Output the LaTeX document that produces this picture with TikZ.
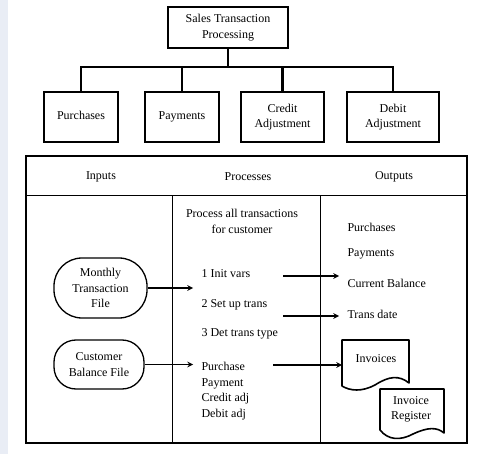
\documentclass[tikz,border=0pt]{standalone}
\usepackage{fontspec}
\setmainfont{Liberation Serif}
\definecolor{franja}{RGB}{233,237,245}
\usetikzlibrary{arrows}

\begin{document}
\begin{tikzpicture}[x=1pt, y=-1pt,
    font=\fontsize{12}{15.5}\selectfont,
    caja/.style={draw, line width=1.8pt, align=center, inner sep=0pt},
    rama/.style={line width=2.2pt},
    archivo/.style={draw, line width=1.3pt, rounded corners=22pt, align=center, inner sep=0pt},
    flecha/.style={-stealth, line width=1.5pt},
    doc/.style={line width=1.6pt, line join=round}]

    % FONDO
    \useasboundingbox (0,0) rectangle (479,454);
    \fill[franja] (0,0) rectangle (8,454);

    % ARBOL
    \node[caja, minimum width=120, minimum height=41] (sales) at (228,27.5) {Sales Transaction\\Processing};
    \node[caja, text height=8pt, text depth=3pt, minimum width=74, minimum height=50] (purch) at (81,117) {Purchases};
    \node[caja, text height=8pt, text depth=3pt, minimum width=74, minimum height=50] (paym) at (182,117) {Payments};
    \node[caja, minimum width=83, minimum height=50] (credit) at (282.5,117) {Credit\\Adjustment};
    \node[caja, minimum width=92, minimum height=50] (debit) at (393,117) {Debit\\Adjustment};
    \coordinate (bar) at (228,67);
    \draw[rama] (sales.south) -- (bar);
    \foreach \hijo in {purch,paym,credit,debit}
        \draw[rama] (bar) -| (\hijo.north);

    % TABLA
    \draw[line width=1.2pt] (26,156) rectangle (467,443);
    \draw[line width=1pt] (26,196) -- (467,196);
    \draw[line width=1pt] (172,196) -- (172,443);
    \draw[line width=1pt] (320,196) -- (320,443);
    \node (inputs) at (101,177) {Inputs};
    \node (processes) at (248,177) {Processes};
    \node (outputs) at (394,177) {Outputs};

    % ENTRADAS
    \node[archivo, rounded corners=28pt, minimum width=93, minimum height=60] (monthly) at (100.5,288) {Monthly\\Transaction\\File};
    \node[archivo, minimum width=90, minimum height=49] (custbal) at (99,364.5) {Customer\\Balance File};

    % PROCESOS
    \node[align=center] (procall) at (242,221.5) {Process all transactions\\for customer};
    \node[anchor=west] (init) at (198,274) {1 Init vars};
    \node[anchor=west] (setup) at (198,305) {2 Set up trans};
    \node[anchor=west] (dettype) at (198,334) {3 Det trans type};
    \node[anchor=west, align=left] (types) at (198,391) {Purchase\\Payment\\Credit adj\\Debit adj};

    % SALIDAS
    \node[anchor=west] (outpur) at (344,227) {Purchases};
    \node[anchor=west] (outpay) at (344,254) {Payments};
    \node[anchor=west] (curbal) at (344,283) {Current Balance};
    \node[anchor=west] (transdate) at (344,314) {Trans date};

    % DOCUMENTOS
    \draw[doc] (342,386) -- (342,340) -- (409,340) -- (409,383)
        .. controls (399,375) and (389,376) .. (375,385)
        .. controls (362,392) and (350,391) .. cycle;
    \node (invoices) at (376,359) {Invoices};
    \draw[doc] (380,430) -- (380,389) -- (444,389) -- (444,433)
        .. controls (437,427) and (428,427) .. (413,434)
        .. controls (400,441) and (388,440) .. cycle;
    \node[align=center] (invreg) at (411,409.5) {Invoice\\Register};

    % FLECHAS
    \coordinate (monthin) at (193,288);
    \coordinate (custin) at (193,364.5);
    \coordinate (initfin) at (283,276);
    \coordinate (curbalin) at (339,276);
    \coordinate (setupfin) at (283,316);
    \coordinate (datein) at (339,316);
    \coordinate (typesfin) at (273,365);
    \coordinate (invin) at (342,365);
    \draw[flecha] (monthly.east) -- (monthin);
    \draw[flecha] (custbal.east) -- (custin);
    \draw[flecha] (initfin) -- (curbalin);
    \draw[flecha] (setupfin) -- (datein);
    \draw[flecha] (typesfin) -- (invin);

\end{tikzpicture}
\end{document}
